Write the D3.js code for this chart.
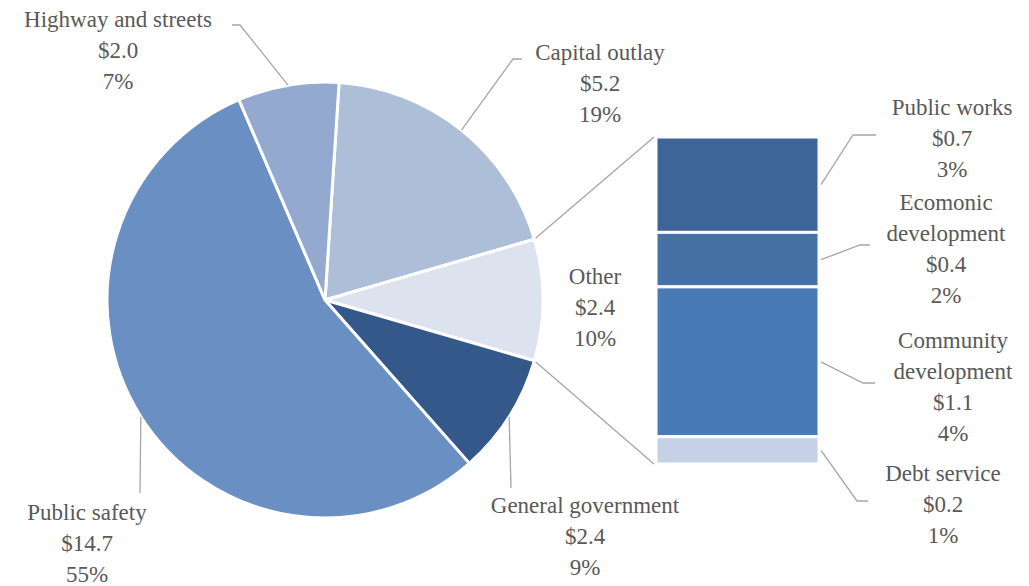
<!DOCTYPE html>
<html>
<head>
<meta charset="utf-8">
<script src="https://cdn.jsdelivr.net/npm/d3@7"></script>
<style>
  body { margin: 0; background: #fff; }
</style>
</head>
<body>
<div class="container"></div>
<script>
// pie slices, in drawing order (clockwise from top)
var pieNames = ["Capital outlay", "Other", "General government", "Public safety", "Highway and streets"];
var pieValues = [5.2, 2.4, 2.4, 14.7, 2.0];
var piePct = ["19%", "10%", "9%", "55%", "7%"];

// "Other" broken out in the stacked bar
var barNames = ["Public works", "Ecomonic development", "Community development", "Debt service"];
var barValues = [0.7, 0.4, 1.1, 0.2];
var barPct = ["3%", "2%", "4%", "1%"];

const WIDTH = 1029;
const HEIGHT = 586;
const CX = 325, CY = 300, R = 218;
const LINE_H = 31;
const FONT = "'Liberation Serif', 'Times New Roman', Times, 'DejaVu Serif', serif";

var pieColors = ["#adbed9", "#dce2ee", "#34588a", "#6a8fc2", "#94a9d0"];
var barColors = ["#3e6598", "#4571a7", "#4a7ab5", "#c7d1e5"];

// label layout: [centerX, first baseline, knee x, knee y]
var pieLabelPos = [
  [600, 60, 513, 59],
  [595, 284, null, null],
  [585, 513, 511, 488],
  [87, 520, 140, 493],
  [118, 27, 240, 25]
];
var barLabelPos = [
  [952, 115, 853, 135, 876],
  [946, 210, 860, 245, 870],
  [953, 348, 863, 383, 875],
  [943, 481, 857, 501, 868]
];

var translate = function(x, y){
  return "translate(" + x + "," + y + ")";
};

var money = function(v){ return "$" + v.toFixed(1); };

var svg = d3.select(".container").append("svg")
  .attr("width", WIDTH)
  .attr("height", HEIGHT);

// other slice centred at 3 o'clock
var total = d3.sum(pieValues);
var beforeOther = pieValues[0] + pieValues[1] / 2;
var start = Math.PI / 2 - beforeOther / total * 2 * Math.PI;

var pie = d3.pie().sort(null).startAngle(start).endAngle(start + 2 * Math.PI);
var arcs = pie(pieValues);
var arc = d3.arc().innerRadius(0).outerRadius(R);

var edgePoint = function(a, r){
  return [CX + r * Math.sin(a), CY - r * Math.cos(a)];
};

// connector lines between pie and bar
var yScale = d3.scaleLinear()
  .domain([0, d3.sum(barValues)])
  .range([137, 464]);
var barX = 656, barW = 163;

var oth = arcs[1];
var p1 = edgePoint(oth.startAngle, R), p2 = edgePoint(oth.endAngle, R);
svg.append("line").attr("x1", p1[0]).attr("y1", p1[1]).attr("x2", barX - 2).attr("y2", yScale(0))
  .attr("stroke", "#a6a6a6").attr("stroke-width", 1.3);
svg.append("line").attr("x1", p2[0]).attr("y1", p2[1]).attr("x2", barX - 2).attr("y2", yScale(d3.sum(barValues)))
  .attr("stroke", "#a6a6a6").attr("stroke-width", 1.3);

var g = svg.append("g").attr("transform", translate(CX, CY));
g.selectAll("path").data(arcs)
  .enter().append("path")
  .attr("d", arc)
  .attr("fill", function(d, i){ return pieColors[i]; })
  .attr("stroke", "#fff")
  .attr("stroke-width", 3)
  .attr("stroke-linejoin", "round");

// stacked bar
var cum = 0;
var stack = barValues.map(function(v){ var s = cum; cum += v; return [s, cum]; });
svg.selectAll("rect.seg").data(stack)
  .enter().append("rect")
  .attr("class", "seg")
  .attr("x", barX)
  .attr("y", function(d){ return yScale(d[0]); })
  .attr("width", barW)
  .attr("height", function(d){ return yScale(d[1]) - yScale(d[0]); })
  .attr("fill", function(d, i){ return barColors[i]; })
  .attr("stroke", "#fff")
  .attr("stroke-width", 3);

var writeLabel = function(x, y, lines){
  var t = svg.append("text")
    .attr("text-anchor", "middle")
    .attr("font-family", FONT)
    .attr("font-size", 23)
    .attr("fill", "#595959");
  lines.forEach(function(s, k){
    t.append("tspan").attr("x", x).attr("y", y + k * LINE_H).text(s);
  });
};

// pie labels + leaders
arcs.forEach(function(d, i){
  var pos = pieLabelPos[i];
  writeLabel(pos[0], pos[1], [pieNames[i], money(pieValues[i]), piePct[i]]);
  if (pos[2] === null) return;
  var mid = (d.startAngle + d.endAngle) / 2;
  var e = edgePoint(mid, R);
  var pts = [e, [pos[2], pos[3]]];
  if (i === 0) pts.push([pos[2] + 9, pos[3]]);
  if (i === 4) pts.push([pos[2] - 8, pos[3]]);
  svg.append("path")
    .attr("d", d3.line()(pts))
    .attr("fill", "none").attr("stroke", "#a6a6a6").attr("stroke-width", 1.3);
});

// bar labels + leaders
stack.forEach(function(d, i){
  var pos = barLabelPos[i];
  var words = barNames[i].indexOf("development") > 0 ? barNames[i].split(" ") : [barNames[i]];
  writeLabel(pos[0], pos[1], words.concat([money(barValues[i]), barPct[i]]));
  var my = (yScale(d[0]) + yScale(d[1])) / 2;
  svg.append("path")
    .attr("d", d3.line()([[barX + barW + 2, my], [pos[2], pos[3]], [pos[4], pos[3]]]))
    .attr("fill", "none").attr("stroke", "#a6a6a6").attr("stroke-width", 1.3);
});
</script>
</body>
</html>
